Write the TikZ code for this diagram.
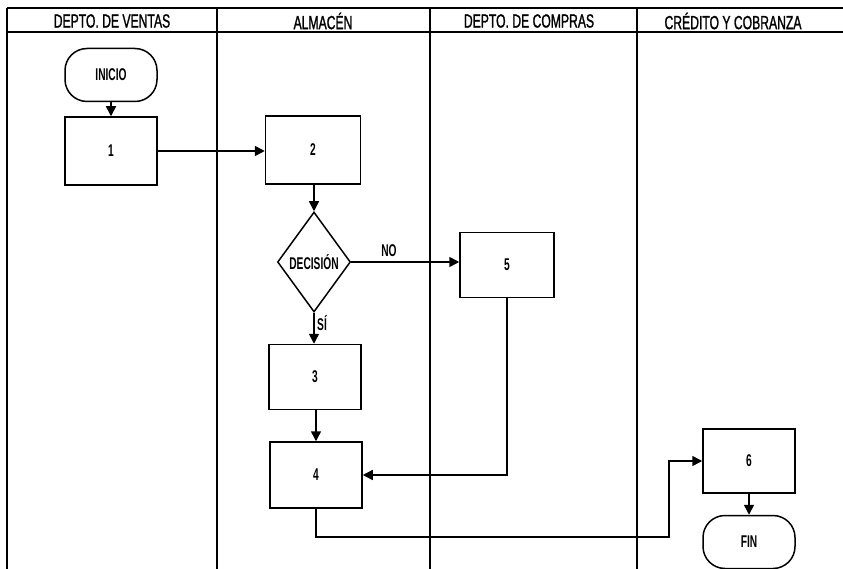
\documentclass[tikz,border=0pt]{standalone}
\usepackage{fontspec}
\setmainfont{Liberation Sans}
\newfontfamily\hdrfont{Liberation Sans}[FakeStretch=0.64,FakeBold=1.2]
\newfontfamily\boxfont{Liberation Sans}[FakeStretch=0.6]
\usetikzlibrary{shapes.geometric,arrows.meta}
\tikzset{
  lane/.style={line width=1.1pt},
  hdr/.style={font=\hdrfont\fontsize{19}{21}\selectfont, inner sep=0pt},
  procbox/.style={draw, line width=1.5pt, minimum width=92pt, minimum height=66pt, inner sep=0pt,
    font=\boxfont\bfseries\fontsize{17}{19}\selectfont},
  term/.style={draw, line width=1.5pt, rounded corners=22pt, minimum width=92pt, minimum height=53pt, inner sep=0pt,
    font=\boxfont\bfseries\fontsize{17}{19}\selectfont},
  decis/.style={draw, diamond, line width=1.5pt, minimum width=73pt, minimum height=100pt, inner sep=0pt,
    font=\boxfont\bfseries\fontsize{17}{19}\selectfont},
  lbl/.style={inner sep=0pt, font=\boxfont\bfseries\fontsize{17}{19}\selectfont},
  flow/.style={line width=1.5pt, -{Triangle[length=10pt,width=10pt]}},
  plain/.style={line width=1.5pt}
}
\begin{document}
\begin{tikzpicture}[x=1pt,y=-1pt]
\useasboundingbox (0,0) rectangle (843,569);
% swimlane frame
\draw[lane] (7,8) -- (843,8);
\draw[lane] (7,32) -- (843,32);
\draw[lane] (7,8) -- (7,569);
\draw[lane] (217,8) -- (217,569);
\draw[lane] (430,8) -- (430,569);
\draw[lane] (637,8) -- (637,569);
% headers
\node[hdr] (h1) at (112,21) {DEPTO. DE VENTAS};
\node[hdr] (h2) at (323,21) {ALMACÉN};
\node[hdr] (h3) at (529,21) {DEPTO. DE COMPRAS};
\node[hdr] (h4) at (733,21) {CRÉDITO Y COBRANZA};
% nodes
\node[term] (ini) at (111,75) {INICIO};
\node[procbox, minimum height=68pt] (n1) at (111,151) {1};
\node[procbox, minimum width=95pt, minimum height=68pt] (n2) at (313,150) {2};
\node[decis] (dec) at (314,262) {DECISIÓN};
\node[procbox, minimum width=94pt, minimum height=65pt] (n5) at (507,265) {5};
\node[procbox, minimum height=65pt] (n3) at (315,377) {3};
\node[procbox] (n4) at (316,475) {4};
\node[procbox, minimum height=64pt] (n6) at (749,461) {6};
\node[term] (fin) at (749,542) {FIN};
% labels
\node[lbl] (no) at (389,251) {NO};
\node[lbl, anchor=west] (si) at (317,323) {SÍ};
% connectors
\coordinate (c1) at (669,537);
\draw[flow] (ini) -- (n1);
\draw[flow] (n1.east) -- (n1.east -| n2.west);
\draw[flow] (n2.south -| dec.north) -- (dec.north);
\draw[flow] (dec.east) -- (dec.east -| n5.west);
\draw[flow] (dec.south) -- (dec.south |- n3.north);
\draw[flow] (n3.south -| n4.north) -- (n4.north);
\draw[flow] (n5.south) |- (n4.east);
\draw[flow] (n4.south) |- (c1) |- (n6.west);
\draw[flow] (n6) -- (fin);
\end{tikzpicture}
\end{document}
